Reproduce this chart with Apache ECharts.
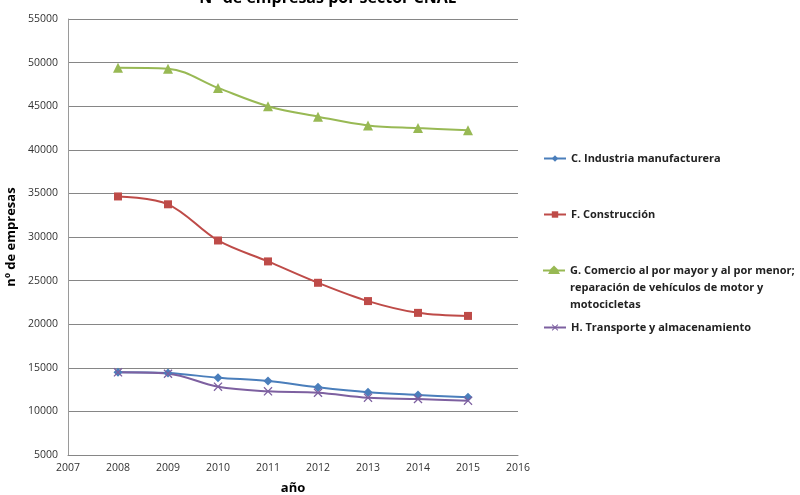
<!DOCTYPE html>
<html>
<head>
<meta charset="utf-8">
<script src="https://cdn.jsdelivr.net/npm/echarts@6/dist/echarts.min.js"></script>
<style>html,body{margin:0;padding:0;background:#fff}#c{width:800px;height:495px}</style>
</head>
<body>
<div id="c"></div>
<script>
const years = [2008, 2009, 2010, 2011, 2012, 2013, 2014, 2015];
const seriesNames = [
  'C. Industria manufacturera',
  'F. Construcción',
  'G. Comercio al por mayor y al por menor;\nreparación de vehículos de motor y\nmotocicletas',
  'H. Transporte y almacenamiento'
];
const industria = [14500, 14400, 13860, 13490, 12760, 12190, 11880, 11620];
const construccion = [34650, 33750, 29600, 27200, 24750, 22650, 21300, 20950];
const comercio = [49400, 49300, 47100, 45000, 43800, 42800, 42500, 42250];
const transporte = [14480, 14320, 12830, 12300, 12140, 11570, 11420, 11230];
const yTicks = [5000, 10000, 15000, 20000, 25000, 30000, 35000, 40000, 45000, 50000, 55000];

const colors = ['#4A7EBB', '#BE4B48', '#98B954', '#7D60A0'];
const xPath = 'path://M1,0 L5,4 L9,0 L10,1 L6,5 L10,9 L9,10 L5,6 L1,10 L0,9 L4,5 L0,1 Z';
const symbols = ['diamond', 'rect', 'triangle', xPath];
const sizes = [9, 8, 10, 9];
const datasets = [industria, construccion, comercio, transporte];
const legendTops = [145, 201, 257, 314];
// icon for the 3-line legend entry: line + triangle aligned with first text line
const topAlignedIcon = 'path://M0,0 L0.01,0 L0,0.01 Z M0,7.5 L7,7.5 L11,3.5 L15,7.5 L22,7.5 L22,9.5 L15.5,9.5 L17,12 L5,12 L6.5,9.5 L0,9.5 Z M0,51 L0.01,51 L0,50.99 Z';

const chart = echarts.init(document.getElementById('c'), null, {renderer: 'canvas'});
const font = '"Open Sans", "DejaVu Sans", sans-serif';
chart.setOption({
  animation: false,
  title: {
    text: 'Nº de empresas por sector CNAE',
    left: 323, textAlign: 'center', top: -15,
    textStyle: {fontSize: 16, fontWeight: 'bold', color: '#000', fontFamily: font}
  },
  legend: seriesNames.map((n, i) => ({
    data: i === 2 ? [{name: n, icon: topAlignedIcon}] : [n],
    orient: 'vertical', left: 538, top: legendTops[i],
    itemWidth: 22, itemHeight: i === 2 ? 51 : 8, itemGap: 0,
    textStyle: {fontSize: 11, fontWeight: 'bold', color: '#222', fontFamily: font, lineHeight: 17}
  })),
  grid: {left: 68, right: 282, top: 19, bottom: 40, outerBoundsMode: 'none', containLabel: false},
  xAxis: {
    type: 'value', min: 2007, max: 2016, interval: 1,
    name: 'año', nameLocation: 'middle', nameGap: 27, nameMoveOverlap: false,
    nameTextStyle: {fontSize: 13, fontWeight: 'bold', color: '#000', fontFamily: font},
    axisLine: {lineStyle: {color: '#868686'}},
    axisTick: {show: false},
    splitLine: {show: false},
    axisLabel: {fontSize: 10.5, color: '#333', fontFamily: font, margin: 8, formatter: v => String(v)}
  },
  yAxis: {
    type: 'value', min: yTicks[0], max: yTicks[yTicks.length - 1], interval: 5000,
    name: 'nº de empresas', nameLocation: 'middle', nameGap: 50, nameRotate: 90, nameMoveOverlap: false,
    nameTextStyle: {fontSize: 13, fontWeight: 'bold', color: '#000', fontFamily: font},
    axisLine: {show: true, lineStyle: {color: '#9a9a9a'}},
    axisTick: {show: false},
    splitLine: {lineStyle: {color: '#868686', width: 1}},
    axisLabel: {fontSize: 10.5, color: '#333', fontFamily: font, margin: 10, formatter: v => String(v)}
  },
  series: seriesNames.map((n, i) => ({
    name: n, type: 'line', smooth: 0.35,
    data: years.map((y, j) => [y, datasets[i][j]]),
    symbol: symbols[i], symbolSize: sizes[i],
    lineStyle: {color: colors[i], width: 2},
    itemStyle: {color: colors[i]},
    showAllSymbol: true
  }))
});
</script>
</body>
</html>
